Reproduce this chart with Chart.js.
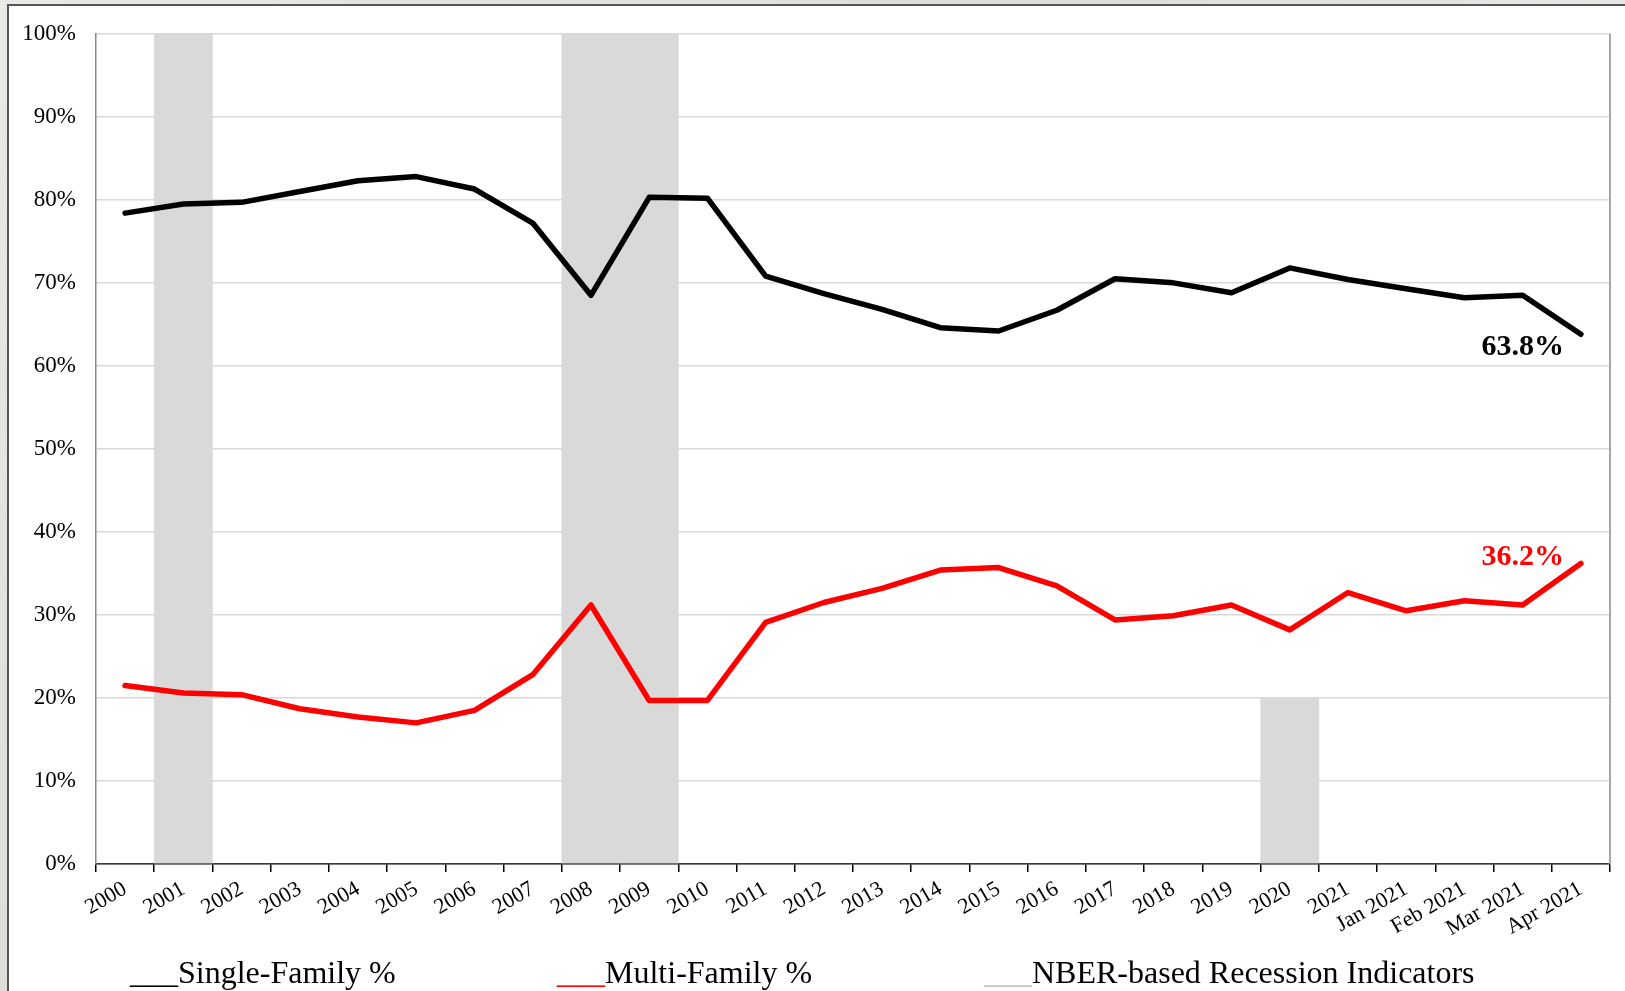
<!DOCTYPE html>
<html>
<head>
<meta charset="utf-8">
<script src="https://cdn.jsdelivr.net/npm/chart.js@4.4.1/dist/chart.umd.min.js"></script>
<style>
  html, body { margin: 0; padding: 0; width: 1625px; height: 991px; overflow: hidden;
    background: linear-gradient(135deg, #e9e9e6 0%, #dcdcd8 40%, #ececea 70%, #d8d8d4 100%); }
  #frame { position: absolute; left: 7px; top: 4px; width: 1700px; height: 1100px;
    background: #ffffff; border-left: 2px solid #555; border-top: 2px solid #555; }
  #wrap { position: absolute; left: 0; top: 0; width: 1625px; height: 991px; }
</style>
</head>
<body>
<div id="frame"></div>
<div id="wrap"><canvas id="c" width="1625" height="991"></canvas></div>
<script>
const categories = ['2000','2001','2002','2003','2004','2005','2006','2007','2008','2009','2010',
  '2011','2012','2013','2014','2015','2016','2017','2018','2019','2020','2021',
  'Jan 2021','Feb 2021','Mar 2021','Apr 2021'];
const singleFamily = [78.4,79.5,79.7,81.0,82.3,82.8,81.3,77.2,68.5,80.3,80.2,
  70.8,68.7,66.8,64.6,64.2,66.7,70.5,70.0,68.8,71.8,70.4,69.3,68.2,68.5,63.8];
const multiFamily = [21.5,20.6,20.4,18.7,17.7,17.0,18.5,22.8,31.2,19.7,19.7,
  29.1,31.5,33.2,35.4,35.7,33.5,29.4,29.9,31.2,28.2,32.7,30.5,31.7,31.2,36.2];
const recession = [0,100,0,0,0,0,0,0,100,100,0,0,0,0,0,0,0,0,0,0,20,0,0,0,0,0];
const yTicks = [0,10,20,30,40,50,60,70,80,90,100];
const legendItems = ['Single-Family %','Multi-Family %','NBER-based Recession Indicators'];

const SERIF = "'Liberation Serif', 'Times New Roman', serif";
const BLACK = '#000000', RED = '#ff0000', GRAY = '#d9d9d9';

const extrasPlugin = {
  id: 'extras',
  afterDatasetsDraw(chart) {
    const ctx = chart.ctx, a = chart.chartArea;
    ctx.save();
    ctx.strokeStyle = '#a6a6a6'; ctx.lineWidth = 2;
    ctx.beginPath(); ctx.moveTo(a.right, a.top); ctx.lineTo(a.right, a.bottom); ctx.stroke();
    const m0 = chart.getDatasetMeta(0), m1 = chart.getDatasetMeta(1);
    const p0 = m0.data[m0.data.length - 1], p1 = m1.data[m1.data.length - 1];
    ctx.font = 'bold 30px ' + SERIF; ctx.textAlign = 'right'; ctx.textBaseline = 'alphabetic';
    ctx.fillStyle = BLACK;
    ctx.fillText(singleFamily[singleFamily.length - 1].toFixed(1) + '%', p0.x - 17, p0.y + 21);
    ctx.fillStyle = RED;
    ctx.fillText(multiFamily[multiFamily.length - 1].toFixed(1) + '%', p1.x - 17, p1.y + 2);
    ctx.restore();
  },
  afterDraw(chart) {
    const ctx = chart.ctx;
    ctx.save();
    ctx.font = '32px ' + SERIF; ctx.textAlign = 'left'; ctx.textBaseline = 'alphabetic';
    const xs = [130, 557, 984], cols = [BLACK, RED, '#bfbfbf'];
    legendItems.forEach((t, i) => {
      ctx.fillStyle = cols[i];
      ctx.fillText('___', xs[i], 983);
      const w = ctx.measureText('___').width;
      ctx.fillStyle = BLACK;
      ctx.fillText(t, xs[i] + w, 983);
    });
    ctx.restore();
  }
};

new Chart(document.getElementById('c'), {
  type: 'bar',
  data: {
    labels: categories,
    datasets: [
      { type: 'line', label: legendItems[0], data: singleFamily, borderColor: BLACK, borderWidth: 5.5,
        pointRadius: 0, tension: 0, borderCapStyle: 'round', borderJoinStyle: 'round', order: 1 },
      { type: 'line', label: legendItems[1], data: multiFamily, borderColor: RED, borderWidth: 5.5,
        pointRadius: 0, tension: 0, borderCapStyle: 'round', borderJoinStyle: 'round', order: 2 },
      { type: 'bar', label: legendItems[2], data: recession, backgroundColor: GRAY, borderWidth: 0,
        barPercentage: 1.0, categoryPercentage: 1.0, order: 3 }
    ]
  },
  options: {
    responsive: false,
    animation: false,
    events: [],
    layout: { padding: { top: 31, right: 15, left: 0, bottom: 0 } },
    plugins: { legend: { display: false }, tooltip: { enabled: false } },
    scales: {
      x: {
        offset: true,
        grid: { display: true, drawOnChartArea: false, drawTicks: true, tickLength: 8, offset: true,
          color: BLACK, lineWidth: 1.5 },
        border: { display: true, color: BLACK, width: 1.5 },
        ticks: { autoSkip: false, maxRotation: 30, minRotation: 30, color: BLACK, padding: 4,
          font: { family: SERIF, size: 22 } },
        afterFit(s) { s.height = 127; }
      },
      y: {
        min: 0, max: 100,
        afterBuildTicks(s) { s.ticks = yTicks.map(v => ({ value: v })); },
        grid: { color: (c) => c.tick && c.tick.value === 0 ? 'rgba(0,0,0,0)' : '#d9d9d9',
          lineWidth: 1.5, drawTicks: false },
        border: { display: true, color: '#888888', width: 1.5 },
        ticks: { color: BLACK, padding: 20, font: { family: SERIF, size: 23 },
          callback: (v) => v + '%' },
        afterFit(s) { s.width = 96; }
      }
    }
  },
  plugins: [extrasPlugin]
});
</script>
</body>
</html>
